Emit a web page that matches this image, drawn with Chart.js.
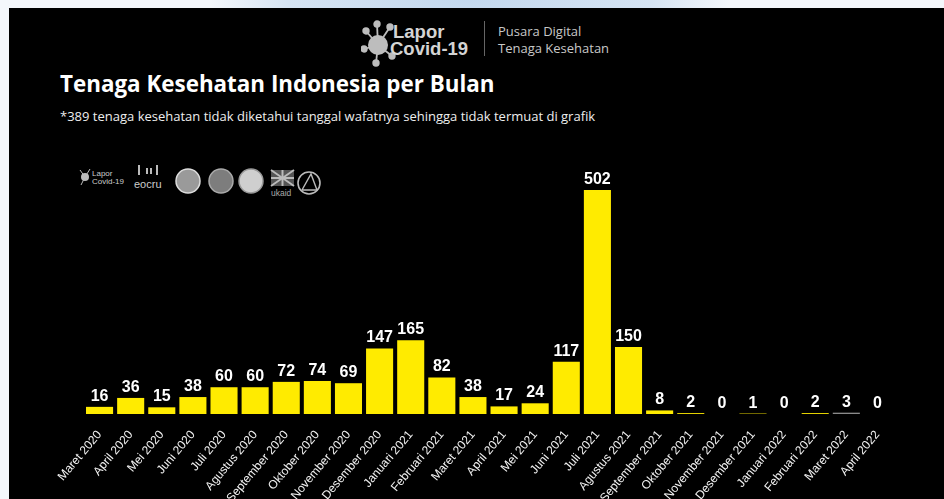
<!DOCTYPE html>
<html>
<head>
<meta charset="utf-8">
<title>Tenaga Kesehatan Indonesia per Bulan</title>
<script src="https://cdn.jsdelivr.net/npm/chart.js@4.4.1/dist/chart.umd.min.js"></script>
<style>
  html, body { margin: 0; padding: 0; }
  body {
    width: 944px; height: 499px; overflow: hidden; position: relative;
    background: radial-gradient(ellipse 260px 60px at 470px 0px, #c3d8ee 0%, #d6e4f3 70%, #f4f7fb 100%);
    background-color: #eef3f9;
    font-family: "Open Sans", "Noto Sans", sans-serif;
  }
  #panel {
    position: absolute; left: 9px; top: 8px; width: 935px; height: 491px;
    background: #000;
  }
  #brand { position: absolute; left: 352px; top: 9px; width: 280px; height: 54px; }
  #brand .name {
    position: absolute; left: 29px; top: 6px; color: #d4d4d4;
    font: bold 18.5px "Liberation Sans", Arial, sans-serif; line-height: 17px;
  }
  #brand .name .l1 { padding-left: 3px; }
  #brand .sep { position: absolute; left: 123px; top: 4px; width: 1px; height: 35px; background: #666; }
  #brand .tag {
    position: absolute; left: 137px; top: 6px; color: #c8c8c8;
    font-size: 13px; line-height: 17px;
  }
  #title {
    position: absolute; left: 51px; top: 60px; color: #fff;
    font-weight: bold; font-size: 22.4px; white-space: nowrap;
  }
  #note {
    position: absolute; left: 51px; top: 99px; color: #eee;
    font-size: 13px; white-space: nowrap;
  }
  #partners { position: absolute; left: 68px; top: 152px; }
  #chartBox { position: absolute; left: 9px; top: 140px; width: 935px; height: 359px; }
</style>
</head>
<body>
<div id="panel">
  <div id="brand">
    <svg width="36" height="48" style="position:absolute;left:0px;top:2px">
      <g stroke="#bdbdbd" stroke-width="1.8" fill="#bdbdbd">
        <line x1="17" y1="26" x2="5" y2="12"/><line x1="17" y1="26" x2="16" y2="5"/>
        <line x1="17" y1="26" x2="29" y2="8"/><line x1="17" y1="26" x2="3" y2="30"/>
        <line x1="17" y1="26" x2="15" y2="44"/><line x1="17" y1="26" x2="31" y2="37"/>
        <circle cx="5" cy="12" r="2.8"/><circle cx="16" cy="5" r="2.8"/><circle cx="29" cy="8" r="2.8"/>
        <circle cx="3" cy="30" r="2.8"/><circle cx="15" cy="44" r="2.8"/><circle cx="31" cy="37" r="2.8"/>
        <circle cx="17" cy="26" r="10" stroke="none"/>
      </g>
    </svg>
    <div class="name"><div class="l1">Lapor</div>Covid-19</div>
    <div class="sep"></div>
    <div class="tag">Pusara Digital<br>Tenaga Kesehatan</div>
  </div>
  <div id="title">Tenaga Kesehatan Indonesia per Bulan</div>
  <div id="note">*389 tenaga kesehatan tidak diketahui tanggal wafatnya sehingga tidak termuat di grafik</div>
  <svg id="partners" width="260" height="40">
    <g fill="#bbb" stroke="#bbb">
      <circle cx="8" cy="17" r="4" stroke="none"/>
      <line x1="8" y1="17" x2="3" y2="10"/><line x1="8" y1="17" x2="13" y2="9"/><line x1="8" y1="17" x2="4" y2="25"/>
    </g>
    <text x="15" y="16" fill="#ccc" font-family="Liberation Sans, Arial" font-size="8">Lapor</text>
    <text x="15" y="24" fill="#ccc" font-family="Liberation Sans, Arial" font-size="8">Covid-19</text>
    <g fill="#bbb">
      <rect x="61" y="5" width="2" height="10"/><rect x="69" y="8" width="2" height="6"/>
      <rect x="73" y="8" width="2" height="6"/><rect x="79" y="5" width="2" height="10"/>
    </g>
    <text x="57" y="28" fill="#ccc" font-family="Liberation Sans, Arial" font-size="11">eocru</text>
    <circle cx="111" cy="21" r="12" fill="#9a9a9a" stroke="#ddd" stroke-width="1.5"/>
    <circle cx="144" cy="21" r="12" fill="#7d7d7d" stroke="#aaa" stroke-width="1.5"/>
    <circle cx="174" cy="21" r="12" fill="#cfcfcf" stroke="#999" stroke-width="1.5"/>
    <g stroke="#bbb" stroke-width="2">
      <rect x="194" y="10" width="23" height="16" fill="#555" stroke="none"/>
      <line x1="194" y1="10" x2="217" y2="26"/><line x1="217" y1="10" x2="194" y2="26"/>
      <line x1="205.5" y1="10" x2="205.5" y2="26"/><line x1="194" y1="18" x2="217" y2="18"/>
    </g>
    <text x="194" y="36" fill="#aaa" font-family="Liberation Sans, Arial" font-size="8.5">ukaid</text>
    <circle cx="232" cy="23" r="11" fill="none" stroke="#bbb" stroke-width="1.6"/>
    <path d="M225 30 L234 14 L240 30 Z" fill="none" stroke="#bbb" stroke-width="1.4"/>
  </svg>
</div>
<div id="chartBox"><canvas id="deathsChart"></canvas></div>

<script>
// monthly figures, March 2020 - April 2022
const months = [
  'Maret 2020', 'April 2020', 'Mei 2020', 'Juni 2020', 'Juli 2020', 'Agustus 2020',
  'September 2020', 'Oktober 2020', 'November 2020', 'Desember 2020',
  'Januari 2021', 'Februari 2021', 'Maret 2021', 'April 2021', 'Mei 2021', 'Juni 2021',
  'Juli 2021', 'Agustus 2021', 'September 2021', 'Oktober 2021', 'November 2021',
  'Desember 2021', 'Januari 2022', 'Februari 2022', 'Maret 2022', 'April 2022'
];
const deaths = [16, 36, 15, 38, 60, 60, 72, 74, 69, 147, 165, 82, 38, 17, 24, 117, 502, 150, 8, 2, 0, 1, 0, 2, 3, 0];
const barColors = months.map((m) => (m === 'Maret 2022' ? '#8a8a8a' : '#ffeb00')); // last bar is greyed out

// draws the number above each bar
const valueLabels = {
  id: 'valueLabels',
  afterDatasetsDraw(chart) {
    const ctx = chart.ctx;
    const meta = chart.getDatasetMeta(0);
    ctx.save();
    ctx.fillStyle = '#ffffff';
    ctx.font = 'bold 16px "Liberation Sans", Arial, sans-serif';
    ctx.textAlign = 'center';
    ctx.textBaseline = 'alphabetic';
    meta.data.forEach((bar, i) => {
      ctx.fillText(String(deaths[i]), bar.x, bar.y - 6);
    });
    ctx.restore();
  }
};

document.addEventListener('DOMContentLoaded', function () {
  const ctx = document.getElementById('deathsChart').getContext('2d');
  new Chart(ctx, {
    type: 'bar',
    data: {
      labels: months,
      datasets: [{
        label: 'Tenaga Kesehatan',
        data: deaths,
        backgroundColor: barColors,
        borderWidth: 0,
        barPercentage: 0.87,
        categoryPercentage: 1.0
      }]
    },
    options: {
      responsive: true,
      maintainAspectRatio: false,
      animation: false,
      layout: {
        padding: { left: 75, right: 51, top: 50, bottom: 0 }
      },
      plugins: {
        legend: { display: false },
        tooltip: { enabled: false }
      },
      scales: {
        x: {
          grid: { display: false, drawTicks: false },
          border: { display: false },
          afterFit: (scale) => { scale.height = 85; },
          ticks: {
            autoSkip: false,
            minRotation: 50,
            maxRotation: 50,
            padding: 14,
            color: '#f2f2f2',
            font: { family: '"Liberation Sans", Arial, sans-serif', size: 12 }
          }
        },
        y: {
          display: false,
          beginAtZero: true,
          min: 0,
          max: 502
        }
      }
    },
    plugins: [valueLabels]
  });
});
</script>
</body>
</html>
